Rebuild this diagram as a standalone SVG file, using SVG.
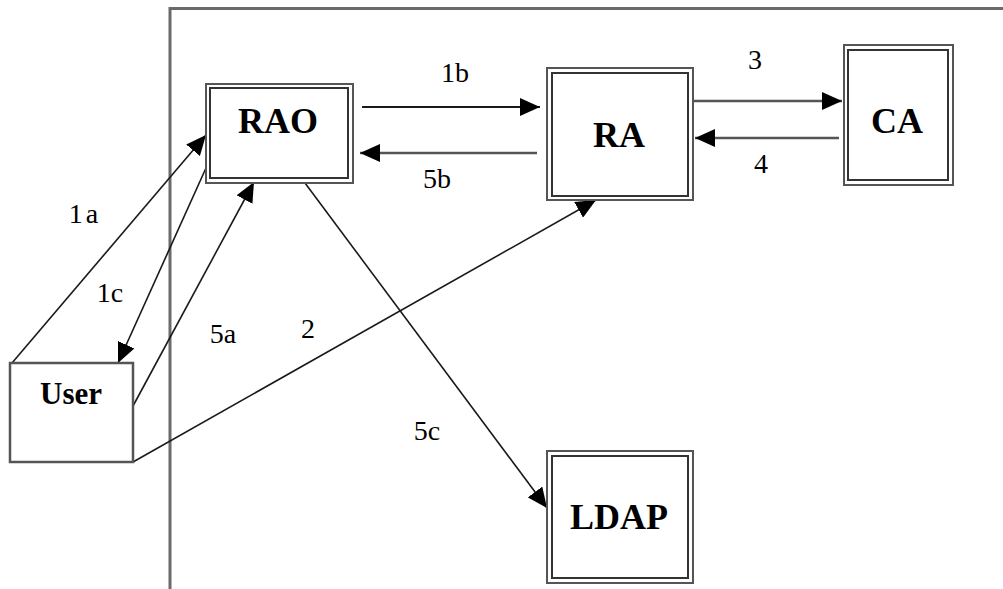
<svg xmlns="http://www.w3.org/2000/svg" width="1003" height="589" viewBox="0 0 1003 589">
  <style>
    .frame { fill: none; stroke: #6a6a6a; stroke-width: 3; }
    .outer { fill: #fff; stroke: #555; stroke-width: 2; }
    .inner { fill: #fff; stroke: #333; stroke-width: 2; }
    .single { fill: #fff; stroke: #555; stroke-width: 2.5; }
    .conn { fill: none; stroke: #1a1a1a; stroke-width: 1.6; marker-end: url(#arrow); }
    .conn-h { fill: none; stroke: #1a1a1a; stroke-width: 2.2; marker-end: url(#arrow); }
    .conn-g { fill: none; stroke: #555; stroke-width: 2.6; marker-end: url(#arrow); }
    .plain { fill: none; stroke: #1a1a1a; stroke-width: 1.6; }
    .node-label { font-family: "Liberation Serif", "Times New Roman", serif; font-weight: bold; font-size: 36px; fill: #000; text-anchor: middle; }
    .edge-label { font-family: "Liberation Serif", "Times New Roman", serif; font-size: 28px; fill: #000; text-anchor: middle; }
  </style>
  <defs>
    <marker id="arrow" markerUnits="userSpaceOnUse" markerWidth="20" markerHeight="18" refX="20" refY="9" orient="auto">
      <path d="M0,0 L20,9 L0,18 z" fill="#000"/>
    </marker>
  </defs>
  <rect width="1003" height="589" fill="#fff"/>
  <path class="frame" d="M170,589 V8.5 H1003"/>

  <g id="connectors">
    <line class="conn-h" x1="362" y1="107" x2="540" y2="107"/>
    <line class="conn-g" x1="537" y1="153" x2="360" y2="153"/>
    <line class="conn-g" x1="694" y1="101" x2="842" y2="101"/>
    <line class="conn-g" x1="839" y1="138" x2="695" y2="138"/>
    <line class="conn" x1="12" y1="363" x2="206" y2="135"/>
    <line class="conn" x1="206" y1="168" x2="118" y2="363"/>
    <line class="conn" x1="133" y1="406" x2="254" y2="182"/>
    <line class="conn" x1="133" y1="462" x2="596" y2="200"/>
    <line class="conn" x1="305" y1="183" x2="547" y2="508"/>
  </g>

  <g id="edge-labels">
    <text class="edge-label" x="455" y="82">1b</text>
    <text class="edge-label" x="437" y="188">5b</text>
    <text class="edge-label" x="755" y="69">3</text>
    <text class="edge-label" x="761" y="173">4</text>
    <text class="edge-label" x="85" y="223" letter-spacing="3">1a</text>
    <text class="edge-label" x="110" y="302">1c</text>
    <text class="edge-label" x="223" y="343">5a</text>
    <text class="edge-label" x="308" y="338">2</text>
    <text class="edge-label" x="427" y="440">5c</text>
  </g>

  <g id="node-RAO">
    <rect class="outer" x="206" y="84" width="147" height="99"/>
    <rect class="inner" x="210" y="88" width="138" height="90"/>
    <text class="node-label" x="278" y="133">RAO</text>
  </g>
  <g id="node-RA">
    <rect class="outer" x="547" y="68" width="146" height="132"/>
    <rect class="inner" x="552" y="73" width="136" height="123"/>
    <text class="node-label" x="619" y="147">RA</text>
  </g>
  <g id="node-CA">
    <rect class="outer" x="844" y="45" width="109" height="140"/>
    <rect class="inner" x="848" y="50" width="100" height="130"/>
    <text class="node-label" x="897" y="133">CA</text>
  </g>
  <g id="node-LDAP">
    <rect class="outer" x="547" y="451" width="146" height="132"/>
    <rect class="inner" x="552" y="456" width="136" height="122"/>
    <text class="node-label" x="619" y="529">LDAP</text>
  </g>
  <g id="node-User">
    <rect class="single" x="10" y="363" width="123" height="99"/>
    <text class="node-label" x="71" y="404" style="font-size:31px">User</text>
  </g>
</svg>
